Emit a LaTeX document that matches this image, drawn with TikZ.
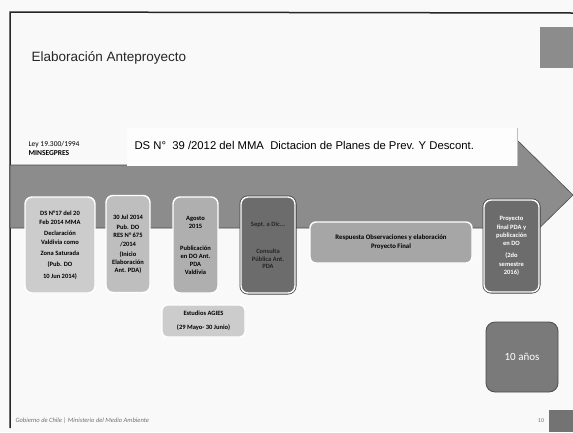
\documentclass[tikz,border=0pt]{standalone}
\usepackage{fontspec}
\setmainfont{Liberation Sans}
\newfontfamily\carl{Carlito}
\usetikzlibrary{positioning}

\definecolor{paper}{HTML}{F9F9F9}
\definecolor{shaftgray}{HTML}{8C8C8C}
\definecolor{lightbox}{HTML}{CCCCCC}
\definecolor{midbox}{HTML}{BEBEBE}
\definecolor{respbox}{HTML}{A6A6A6}
\definecolor{darkbox}{HTML}{6C6C6C}
\definecolor{yearbox}{HTML}{7A7A7A}

\begin{document}
\begin{tikzpicture}[x=1pt,y=-1pt,
		stage/.style = {
			draw=white, line width=1.4pt,
			rounded corners=7pt,
			align=center,
			inner sep=1pt,
			font=\carl\bfseries\fontsize{6.5}{9.5}\selectfont
			},
		darkstage/.style = {
			stage,
			preaction={draw=black!75, line width=3pt}
			}
		]
		\useasboundingbox (0,0) rectangle (573,432);
		\fill[paper] (0,0) rectangle (573,432);
		
		% slide frame and corner marks
		\draw[line width=1.5pt, black!85] (10,428) -- (10,12) -- (573,13);
		\fill[black!45] (540,27) rectangle (573,68);
		\fill[black!55] (549,410) rectangle (573,432);
		
		\node [anchor=west, text=black!85, font=\fontsize{13.5}{15}\selectfont] (title) at (28,58) {Elaboración Anteproyecto};
		
		% big arrow
		\fill[shaftgray, draw=black!70, line width=0.6pt] (10,165) -- (515,165) -- (515,138) -- (573,195) -- (515,252) -- (515,228) -- (10,228) -- cycle;
		
		\node [fill=paper!30!white, minimum width=390pt, minimum height=38pt, anchor=north east] (band) at (517,128) {};
		\draw[black!25, line width=0.8pt] (band.north east) -- (band.south east);
		\node [anchor=west, font=\fontsize{11.3}{13}\selectfont] (ds39) at (131,145) {DS N°\ \ 39 /2012 del MMA\ \ Dictacion de Planes de Prev. Y Descont.};
		
		\node [anchor=west, align=left, font=\carl\fontsize{7.5}{9}\selectfont] (ley) at (25,148) {Ley 19.300/1994\\\bfseries MINSEGPRES};
		
		% stages along the arrow
		\node [stage, fill=lightbox, minimum width=70pt, minimum height=96pt, font=\carl\bfseries\fontsize{6.5}{11.3}\selectfont] (ds17) at (60,245) {DS N°17 del 20\\[-2.5pt]Feb 2014 MMA\\Declaración\\[-2.5pt]Valdivia como\\Zona Saturada\\(Pub. DO\\10 Jun 2014)};
		\node [stage, fill=midbox, minimum width=44pt, minimum height=97pt] (res675) at (128,244) {30 Jul 2014\\Pub. DO\\[-1.5pt]RES N° 675\\/2014\\(Inicio\\[-1.5pt]Elaboración\\[-1.5pt]Ant. PDA)};
		\node [stage, fill=midbox!92!black, minimum width=45pt, minimum height=96pt, font=\carl\bfseries\fontsize{6.5}{8}\selectfont] (ago15) at (195.5,245) {Agosto\\2015\\[14pt]Publicación\\en DO Ant.\\PDA\\Valdivia};
		\node [darkstage, fill=darkbox, text=black!85, minimum width=54pt, minimum height=96pt, font=\carl\bfseries\fontsize{6.5}{7.5}\selectfont] (cons) at (268,245) {Sept. a Dic...\\[20pt]Consulta\\Pública Ant.\\PDA};
		\node [stage, fill=respbox, minimum width=162pt, minimum height=41pt, rounded corners=6pt, font=\carl\bfseries\fontsize{6.8}{9}\selectfont] (resp) at (391,242.5) {Respuesta Observaciones y elaboración\\Proyecto Final};
		\node [darkstage, fill=darkbox, text=white, minimum width=55pt, minimum height=92pt, font=\carl\bfseries\fontsize{6.5}{8.3}\selectfont] (final) at (511.5,246) {Proyecto\\final PDA y\\publicación\\en DO\\[4pt](2do\\semestre\\2016)};
		
		\node [stage, fill=lightbox, minimum width=83pt, minimum height=32pt, rounded corners=5pt, font=\carl\bfseries\fontsize{6.5}{14}\selectfont] (agies) at (203.5,321) {Estudios AGIES\\(29 Mayo- 30 Junio)};
		
		\node [draw=black!70, line width=0.8pt, fill=yearbox, text=white, rounded corners=9pt, minimum width=72pt, minimum height=70pt, font=\carl\fontsize{11}{13}\selectfont] (anios) at (522,357) {10 años};
		
		% footer
		\node [anchor=west, text=black!55, font=\carl\itshape\fontsize{6.5}{8}\selectfont] (foot) at (12,421) {Gobierno de Chile | Ministerio del Medio Ambiente};
		\node [text=black!55, font=\carl\fontsize{6}{7}\selectfont] (page) at (541,421) {10};
		
	\end{tikzpicture}
\end{document}
